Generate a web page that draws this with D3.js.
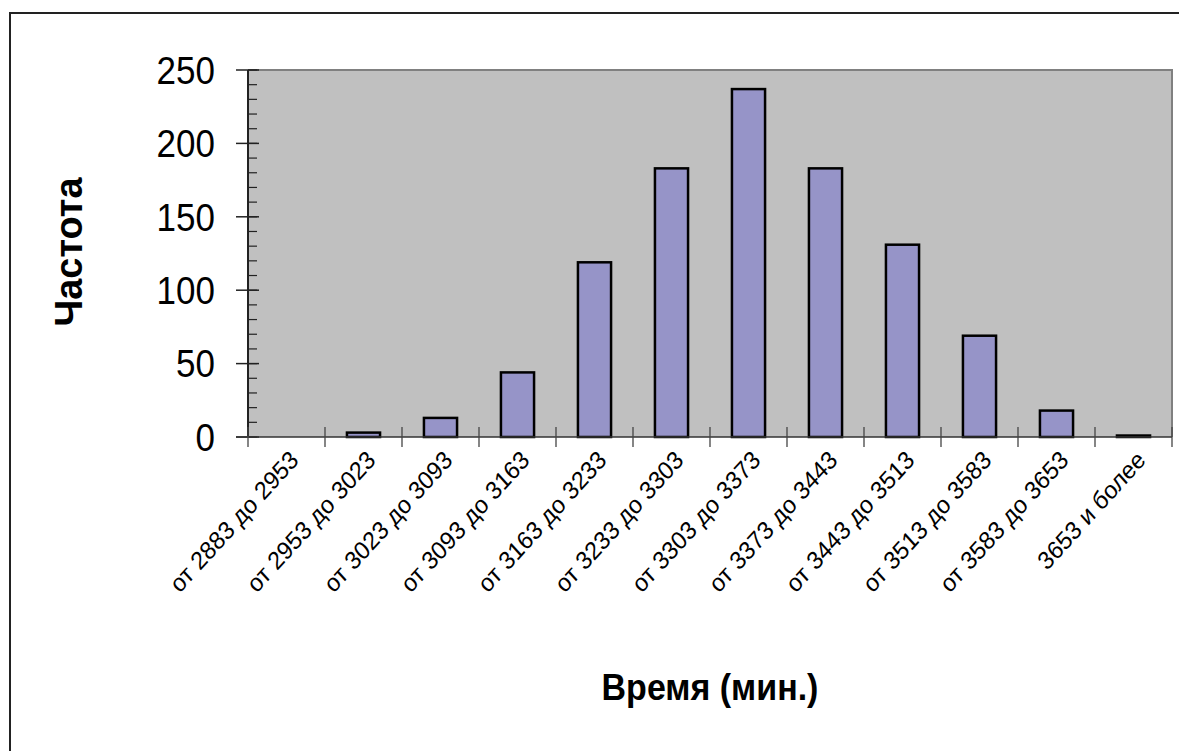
<!DOCTYPE html>
<html>
<head>
<meta charset="utf-8">
<script src="https://cdn.jsdelivr.net/npm/d3@7"></script>
<style>
  body { margin: 0; background: #fff; }
  svg { display: block; font-family: "Liberation Sans", Arial, sans-serif; }
</style>
</head>
<body>
<svg id="chart"></svg>
<script>
// data
const categories = [
  "от 2883 до 2953", "от 2953 до 3023", "от 3023 до 3093", "от 3093 до 3163",
  "от 3163 до 3233", "от 3233 до 3303", "от 3303 до 3373", "от 3373 до 3443",
  "от 3443 до 3513", "от 3513 до 3583", "от 3583 до 3653", "3653 и более"
];
const frequency = [0, 3, 13, 44, 119, 183, 237, 183, 131, 69, 18, 1];
const yTicks = [0, 50, 100, 150, 200, 250];
const yMinorTicks = d3.range(0, 251, 10);

const width = 1179, height = 751;
const plot = { left: 248, right: 1172, top: 70, bottom: 437 };
const stretch = 1.1; // the picture is a bit taller than wide

const svg = d3.select("#chart")
  .attr("width", width)
  .attr("height", height);

// outer frame (right/bottom run off the picture)
svg.append("rect")
  .attr("x", 10).attr("y", 13)
  .attr("width", width + 10).attr("height", height + 10)
  .attr("fill", "#fff")
  .attr("stroke", "#222")
  .attr("stroke-width", 2);

const x = d3.scaleBand()
  .domain(categories)
  .range([plot.left, plot.right])
  .paddingInner(0.57)
  .paddingOuter(0.285);

const y = d3.scaleLinear()
  .domain([0, 250])
  .range([plot.bottom, plot.top]);

// plot area
svg.append("rect")
  .attr("x", plot.left).attr("y", plot.top)
  .attr("width", plot.right - plot.left)
  .attr("height", plot.bottom - plot.top)
  .attr("fill", "#c0c0c0");

svg.append("path")
  .attr("d", `M${plot.left},${plot.top}H${plot.right}V${plot.bottom}`)
  .attr("fill", "none")
  .attr("stroke", "#808080")
  .attr("stroke-width", 2);

// bars
svg.append("g")
  .selectAll("rect")
  .data(frequency)
  .enter()
  .append("rect")
    .attr("x", (d, i) => x(categories[i]))
    .attr("y", d => y(d))
    .attr("width", x.bandwidth())
    .attr("height", d => y(0) - y(d))
    .attr("fill", "#9694c8")
    .attr("stroke", "#000")
    .attr("stroke-width", 2.5)
    .style("display", d => d > 0 ? null : "none");

// y axis
const yAxis = svg.append("g");
yAxis.append("line")
  .attr("x1", plot.left).attr("x2", plot.left)
  .attr("y1", plot.top).attr("y2", plot.bottom)
  .attr("stroke", "#222").attr("stroke-width", 2);

yAxis.selectAll(".minor")
  .data(yMinorTicks)
  .enter()
  .append("line")
    .attr("x1", plot.left).attr("x2", plot.left + 9)
    .attr("y1", d => y(d)).attr("y2", d => y(d))
    .attr("stroke", "#222").attr("stroke-width", 1.2);

yAxis.selectAll(".major")
  .data(yTicks)
  .enter()
  .append("line")
    .attr("x1", plot.left - 12).attr("x2", plot.left + 11)
    .attr("y1", d => y(d)).attr("y2", d => y(d))
    .attr("stroke", "#222").attr("stroke-width", 1.5);

yAxis.selectAll("text")
  .data(yTicks)
  .enter()
  .append("text")
    .attr("transform", d => `translate(215,${y(d)}) scale(1,${stretch})`)
    .attr("dy", "0.36em")
    .attr("text-anchor", "end")
    .attr("font-size", 35)
    .attr("fill", "#000")
    .text(d => d);

// x axis
const xAxis = svg.append("g");
xAxis.append("line")
  .attr("x1", plot.left - 12).attr("x2", plot.right)
  .attr("y1", plot.bottom).attr("y2", plot.bottom)
  .attr("stroke", "#333").attr("stroke-width", 1.5);

const bounds = d3.range(categories.length + 1).map(i => plot.left + i * x.step());
xAxis.selectAll(".tick")
  .data(bounds)
  .enter()
  .append("line")
    .attr("x1", d => d).attr("x2", d => d)
    .attr("y1", plot.bottom - 10).attr("y2", plot.bottom + 10)
    .attr("stroke", "#444").attr("stroke-width", 1.3);

xAxis.selectAll("text")
  .data(categories)
  .enter()
  .append("text")
    .attr("transform", d => `translate(${x(d) + x.bandwidth() / 2 + 2},${plot.bottom + 12}) scale(1,${stretch}) rotate(-45)`)
    .attr("text-anchor", "end")
    .attr("dy", "0.7em")
    .attr("font-size", 23)
    .attr("fill", "#000")
    .text(d => d);

// axis titles
svg.append("text")
  .attr("transform", "translate(82,252) rotate(-90)")
  .attr("text-anchor", "middle")
  .attr("font-size", 38)
  .attr("font-weight", "bold")
  .text("Частота");

svg.append("text")
  .attr("transform", `translate(710,700) scale(1,${stretch})`)
  .attr("text-anchor", "middle")
  .attr("font-size", 34)
  .attr("font-weight", "bold")
  .text("Время (мин.)");
</script>
</body>
</html>
